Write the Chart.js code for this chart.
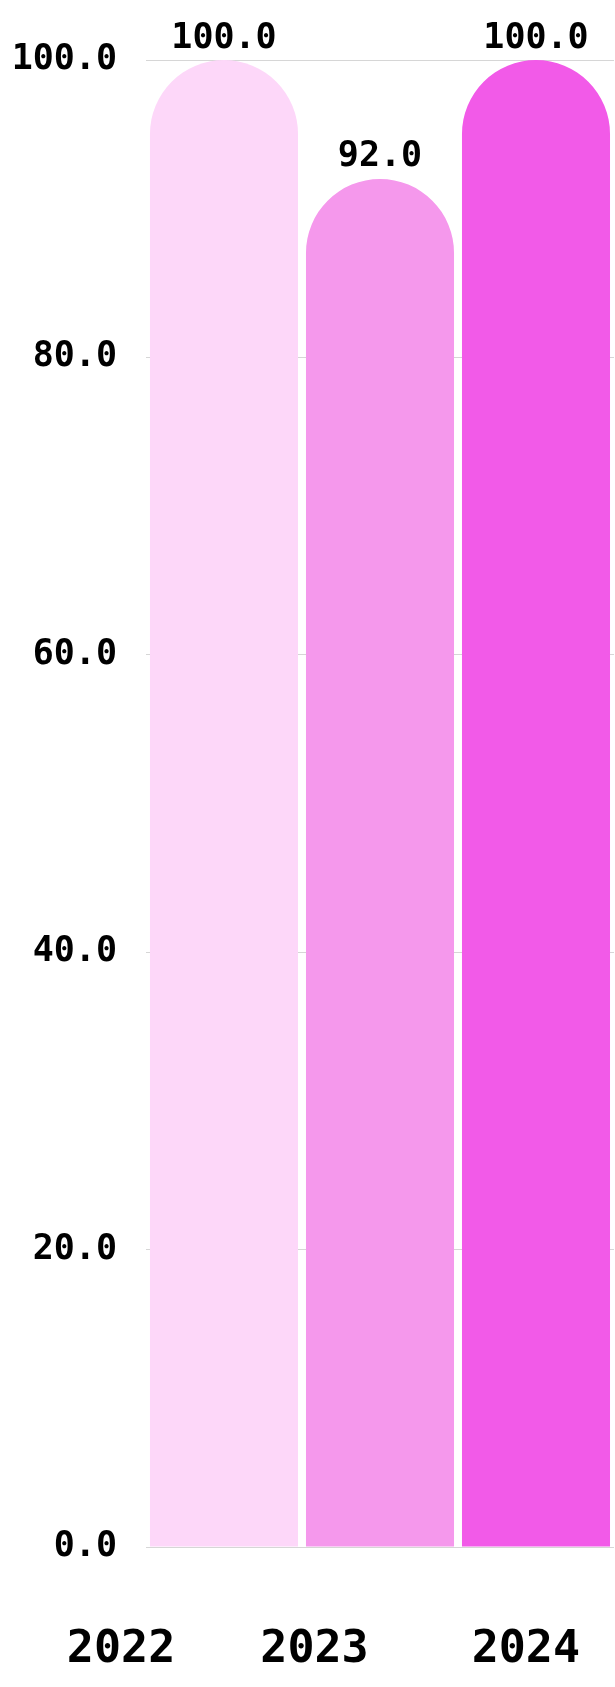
<!DOCTYPE html>
<html>
<head>
<meta charset="utf-8">
<title>Chart</title>
<script src="https://cdn.jsdelivr.net/npm/chart.js@4"></script>
<style>
  html, body { margin: 0; padding: 0; background: #fff; }
  #wrap { width: 615px; height: 1687px; }
</style>
</head>
<body>
<div id="wrap"><canvas id="chart" width="615" height="1687"></canvas></div>
<script>
// ── Data ──────────────────────────────────────────
const years = ['2022', '2023', '2024'];
const values = [100, 92, 100];
const barColors = ['#FDD7F9', '#F598EC', '#F25AE8'];
const yTicks = [0, 20, 40, 60, 80, 100];

// year labels sit off-centre in the original; x in category units (0..3)
const yearLabelAt = [-0.16, 1.08, 2.435];

const MONO = "'DejaVu Sans Mono', monospace";

// value labels above the bars
const valueLabels = {
  id: 'valueLabels',
  afterDatasetsDraw(chart) {
    const ctx = chart.ctx;
    const meta = chart.getDatasetMeta(0);
    ctx.save();
    ctx.font = `bold 35px ${MONO}`;
    ctx.fillStyle = '#000';
    ctx.textAlign = 'center';
    ctx.textBaseline = 'alphabetic';
    meta.data.forEach((bar, i) => {
      ctx.fillText(values[i].toFixed(1), bar.x, bar.y - 12.5);
    });
    ctx.restore();
  }
};

new Chart(document.getElementById('chart'), {
  type: 'bar',
  data: {
    labels: years,
    datasets: [{
      data: values,
      backgroundColor: barColors,
      borderWidth: 0,
      borderRadius: 999,
      borderSkipped: 'start',
      barPercentage: 0.949,
      categoryPercentage: 1
    }]
  },
  options: {
    responsive: false,
    devicePixelRatio: 1,
    animation: false,
    layout: { padding: { top: 60, right: 1, bottom: 10, left: 11.6 } },
    plugins: { legend: { display: false }, tooltip: { enabled: false } },
    scales: {
      x: { display: false },
      years: {
        type: 'linear',
        axis: 'x',
        position: 'bottom',
        offset: false,
        min: 0,
        max: 3,
        afterBuildTicks: scale => {
          scale.ticks = yearLabelAt.map(v => ({ value: v }));
        },
        afterFit: scale => {
          scale.paddingLeft = 0;
          scale.paddingRight = 0;
          scale.paddingTop = 0;
          scale.paddingBottom = 0;
          scale.height = 130;
        },
        grid: { display: false, drawTicks: false },
        border: { display: false },
        ticks: {
          autoSkip: false,
          maxRotation: 0,
          minRotation: 0,
          padding: 76,
          color: '#000',
          font: { family: MONO, size: 45, weight: 'bold' },
          callback: (v, i) => years[i]
        }
      },
      y: {
        min: 0,
        max: 100,
        afterBuildTicks: scale => {
          scale.ticks = yTicks.map(v => ({ value: v }));
        },
        afterFit: scale => {
          scale.paddingTop = 0;
          scale.paddingBottom = 0;
          scale.width = 134.4;
        },
        grid: { color: '#d6d6d6', lineWidth: 1, drawTicks: false },
        border: { display: false },
        ticks: {
          padding: 29,
          color: '#000',
          font: { family: MONO, size: 35, weight: 'bold' },
          callback: v => v.toFixed(1)
        }
      }
    }
  },
  plugins: [valueLabels]
});
</script>
</body>
</html>
